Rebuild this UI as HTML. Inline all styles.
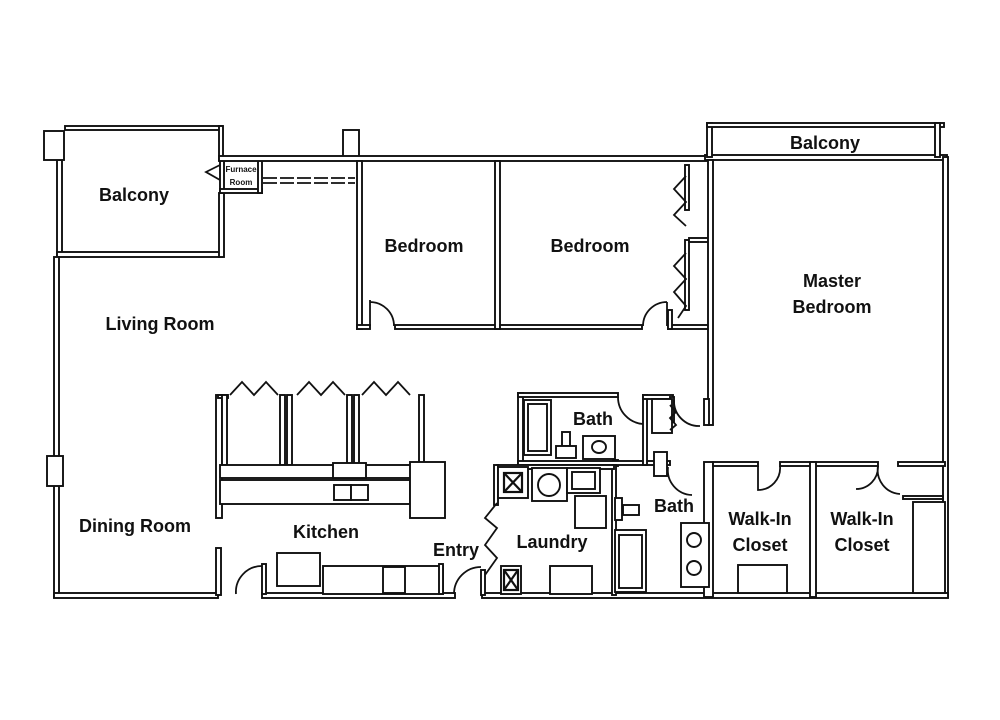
<!DOCTYPE html>
<html><head><meta charset="utf-8"><style>
html,body{margin:0;padding:0;background:#fff}
svg{display:block}
text{font-family:"Liberation Sans",sans-serif;font-weight:bold;fill:#111}
</style></head><body>
<svg width="1000" height="720" viewBox="0 0 1000 720" xmlns="http://www.w3.org/2000/svg">
<rect width="1000" height="720" fill="#fff"/>
<g fill="#fff" stroke="#111" stroke-width="1.9">
<rect x="65" y="126" width="157" height="4"/>
<rect x="219" y="126" width="4" height="34"/>
<rect x="57" y="160" width="5" height="95"/>
<rect x="57" y="252" width="165" height="5"/>
<rect x="219" y="193" width="5" height="64"/>
<rect x="44" y="131" width="20" height="29"/>
<rect x="343" y="130" width="16" height="30"/>
<rect x="220" y="158" width="4" height="35"/>
<rect x="220" y="189" width="42" height="4"/>
<rect x="258" y="158" width="4" height="35"/>
<rect x="219" y="156" width="490" height="5"/>
<rect x="705" y="155" width="242" height="5"/>
<rect x="707" y="123" width="5" height="34"/>
<rect x="707" y="123" width="237" height="4"/>
<rect x="935" y="123" width="5" height="34"/>
<rect x="54" y="257" width="5" height="340"/>
<rect x="943" y="157" width="5" height="440"/>
<rect x="54" y="593" width="164" height="5"/>
<rect x="262" y="593" width="193" height="5"/>
<rect x="482" y="593" width="466" height="5"/>
<rect x="47" y="456" width="16" height="30"/>
<rect x="357" y="161" width="5" height="168"/>
<rect x="357" y="325" width="13" height="4"/>
<rect x="395" y="325" width="105" height="4"/>
<rect x="495" y="161" width="5" height="168"/>
<rect x="500" y="325" width="142" height="4"/>
<rect x="668" y="325" width="42" height="4"/>
<rect x="668" y="310" width="4" height="19"/>
<rect x="685" y="165" width="4" height="45"/>
<rect x="685" y="240" width="4" height="70"/>
<rect x="689" y="238" width="20" height="4"/>
<rect x="708" y="160" width="5" height="265"/>
<rect x="704" y="462" width="9" height="135"/>
<rect x="713" y="462" width="45" height="4"/>
<rect x="780" y="462" width="98" height="4"/>
<rect x="810" y="462" width="6" height="135"/>
<rect x="898" y="462" width="47" height="4"/>
<rect x="903" y="496" width="40" height="3"/>
<rect x="518" y="393" width="5" height="72"/>
<rect x="518" y="393" width="100" height="4"/>
<rect x="613" y="460" width="5" height="6"/>
<rect x="518" y="461" width="152" height="4"/>
<rect x="643" y="395" width="4" height="70"/>
<rect x="643" y="395" width="30" height="4"/>
<rect x="670" y="397" width="4" height="25"/>
<rect x="654" y="452" width="13" height="24"/>
<rect x="704" y="399" width="5" height="26"/>
<rect x="612" y="465" width="4" height="130"/>
<rect x="497" y="465" width="117" height="4"/>
<rect x="494" y="465" width="4" height="40"/>
<rect x="481" y="570" width="4" height="25"/>
<rect x="216" y="395" width="6" height="123"/>
<rect x="218" y="395" width="10" height="3"/>
<rect x="280" y="395" width="5" height="70"/>
<rect x="287" y="395" width="5" height="70"/>
<rect x="347" y="395" width="5" height="70"/>
<rect x="354" y="395" width="5" height="70"/>
<rect x="419" y="395" width="5" height="70"/>
<rect x="222" y="395" width="5" height="70"/>
<rect x="220" y="465" width="223" height="13"/>
<rect x="333" y="463" width="33" height="15"/>
<rect x="220" y="480" width="190" height="24"/>
<rect x="334" y="485" width="17" height="15"/>
<rect x="351" y="485" width="17" height="15"/>
<rect x="410" y="462" width="35" height="56"/>
<rect x="216" y="548" width="5" height="47"/>
<rect x="262" y="564" width="4" height="30"/>
<rect x="277" y="553" width="43" height="33"/>
<rect x="323" y="566" width="120" height="28"/>
<rect x="383" y="567" width="22" height="26"/>
<rect x="439" y="564" width="4" height="30"/>
<rect x="524" y="400" width="27" height="55"/>
<rect x="528" y="404" width="19" height="47"/>
<rect x="562" y="432" width="8" height="14"/>
<rect x="556" y="446" width="20" height="12"/>
<rect x="583" y="436" width="32" height="23"/>
<ellipse cx="599" cy="447" rx="7" ry="6"/>
<rect x="652" y="399" width="20" height="34"/>
<rect x="498" y="467" width="30" height="31"/>
<rect x="532" y="468" width="35" height="33"/>
<circle cx="549" cy="485" r="11"/>
<rect x="567" y="468" width="33" height="25"/>
<rect x="572" y="472" width="23" height="17"/>
<rect x="575" y="496" width="31" height="32"/>
<rect x="501" y="566" width="20" height="28"/>
<rect x="550" y="566" width="42" height="28"/>
<rect x="615" y="530" width="31" height="62"/>
<rect x="619" y="535" width="23" height="53"/>
<rect x="615" y="498" width="7" height="22"/>
<rect x="623" y="505" width="16" height="10"/>
<rect x="681" y="523" width="28" height="64"/>
<circle cx="694" cy="540" r="7"/>
<circle cx="694" cy="568" r="7"/>
<rect x="738" y="565" width="49" height="28"/>
<rect x="913" y="502" width="32" height="91"/>
</g>
<g stroke="#111" stroke-width="2.2" fill="none">
<rect x="504" y="473" width="18" height="19"/><path d="M504 473L522 492M522 473L504 492"/>
<rect x="504" y="570" width="14" height="20"/><path d="M504 570L518 590M518 570L504 590"/>
</g>
<g stroke="#111" stroke-width="1.8" fill="none">
<path d="M263 178H355M263 183H355" stroke-dasharray="14 3"/>
<path d="M370 300V326M370 302A24 24 0 0 1 394 326"/>
<path d="M667 302V326M667 302A24 24 0 0 0 643 326"/>
<path d="M618 397A27 27 0 0 0 643 424"/>
<path d="M674 400A25 25 0 0 0 700 426"/>
<path d="M758 466V490A22 22 0 0 0 780 466"/>
<path d="M878 466A22 22 0 0 1 856 489M878 466A24 24 0 0 0 900 494"/>
<path d="M668 467A25 25 0 0 0 692 495"/>
<path d="M262 566A26 26 0 0 0 236 594"/>
<path d="M481 567A27 27 0 0 0 454 594"/>
<path d="M686 176L674 189L686 202L674 215L686 226"/>
<path d="M686 253L674 266L686 279L674 292L686 306L678 318"/>
<path d="M670 405L676 412L670 418L676 425L670 430"/>
<path d="M497 503L485 518L497 528L485 545L497 558L485 575"/>
<path d="M230 395L242 382L254 395L266 382L278 395"/>
<path d="M297 395L309 382L321 395L333 382L345 395"/>
<path d="M362 395L374 382L386 395L398 382L410 395"/>
<path d="M220 165L206 172L220 180"/>
</g>
<g font-size="18">
<text x="134" y="201" text-anchor="middle">Balcony</text>
<text x="825" y="149" text-anchor="middle">Balcony</text>
<text x="160" y="330" text-anchor="middle">Living Room</text>
<text x="424" y="252" text-anchor="middle">Bedroom</text>
<text x="590" y="252" text-anchor="middle">Bedroom</text>
<text x="832" y="287" text-anchor="middle">Master</text>
<text x="832" y="313" text-anchor="middle">Bedroom</text>
<text x="593" y="425" text-anchor="middle">Bath</text>
<text x="674" y="512" text-anchor="middle">Bath</text>
<text x="760" y="525" text-anchor="middle">Walk-In</text>
<text x="760" y="551" text-anchor="middle">Closet</text>
<text x="862" y="525" text-anchor="middle">Walk-In</text>
<text x="862" y="551" text-anchor="middle">Closet</text>
<text x="135" y="532" text-anchor="middle">Dining Room</text>
<text x="326" y="538" text-anchor="middle">Kitchen</text>
<text x="456" y="556" text-anchor="middle">Entry</text>
<text x="552" y="548" text-anchor="middle">Laundry</text>
</g>
<g font-size="8">
<text x="241" y="172" text-anchor="middle">Furnace</text>
<text x="241" y="185" text-anchor="middle">Room</text>
</g>
</svg>
</body></html>
